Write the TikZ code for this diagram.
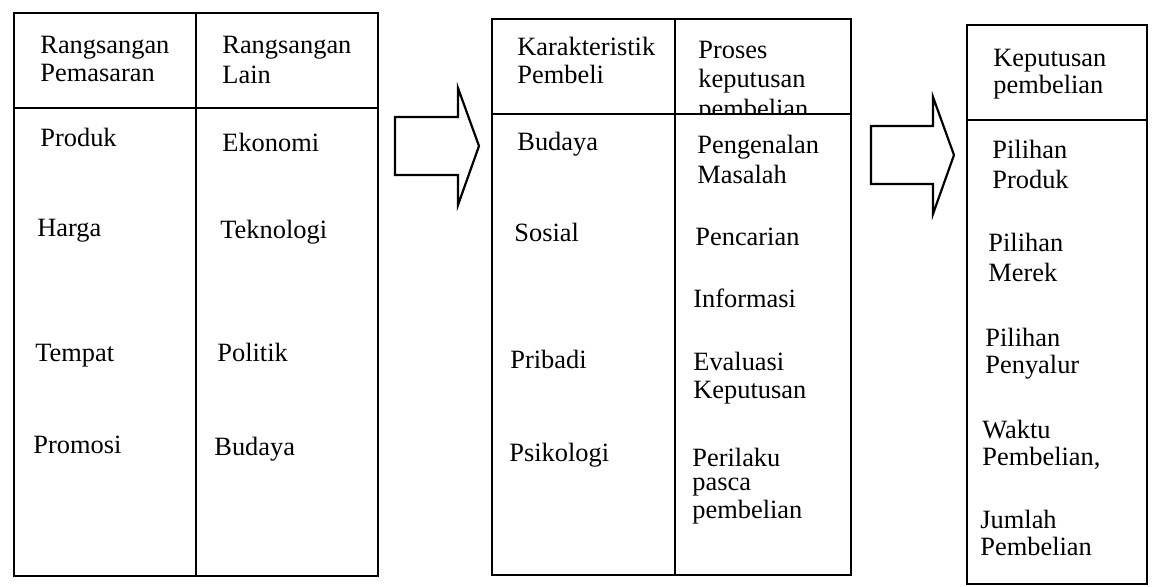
\documentclass[tikz,border=0pt]{standalone}
\usepackage{fontspec}
\setmainfont{Liberation Serif}
\usetikzlibrary{positioning}

\begin{document}
\begin{tikzpicture}[x=0.5pt,y=-0.5pt,
			panel/.style={draw, rectangle, line width=1.1pt, inner sep=0pt},
			rule/.style={line width=1.1pt},
			txt/.style={anchor=base west, inner sep=0pt, font=\fontsize{13.2}{14}\selectfont},
			bigarrow/.style={draw, line width=1.1pt, line join=miter}]
			
			\useasboundingbox (0,0) rectangle (1153,586);
			
			% three panels
			\node[panel, minimum width=182pt, minimum height=281.5pt] (stimuli) at (196,294.5) {};
			\node[panel, minimum width=179.5pt, minimum height=278pt] (buyer) at (671.5,297) {};
			\node[panel, minimum width=90pt, minimum height=279.5pt] (decision) at (1057,304.5) {};
			
			% panel 1
			\node[txt] (h11) at (40,53) {Rangsangan};
			\node[txt] (h12) at (40,81) {Pemasaran};
			\node[txt] (h21) at (222,53) {Rangsangan};
			\node[txt] (h22) at (222,83) {Lain};
			\node[txt] (produk) at (40,146) {Produk};
			\node[txt] (harga) at (37,236) {Harga};
			\node[txt] (tempat) at (35,361) {Tempat};
			\node[txt] (promosi) at (33,453) {Promosi};
			\node[txt] (ekonomi) at (222,151) {Ekonomi};
			\node[txt] (teknologi) at (220,238) {Teknologi};
			\node[txt] (politik) at (217,361) {Politik};
			\node[txt] (budaya1) at (214,455) {Budaya};
			
			% panel 2
			\node[txt] (h31) at (517,55) {Karakteristik};
			\node[txt] (h32) at (517,83) {Pembeli};
			\node[txt] (h41) at (698,58) {Proses};
			\node[txt] (h42) at (698,87) {keputusan};
			\node[txt] (h43) at (698,117) {pembelian};
			\fill[white] (677,114) rectangle (849,132);
			\node[txt] (budaya2) at (517,150) {Budaya};
			\node[txt] (sosial) at (514,241) {Sosial};
			\node[txt] (pribadi) at (510,368) {Pribadi};
			\node[txt] (psikologi) at (509,461) {Psikologi};
			\node[txt] (pengenalan) at (697,153) {Pengenalan};
			\node[txt] (masalah) at (697,183) {Masalah};
			\node[txt] (pencarian) at (695,245) {Pencarian};
			\node[txt] (informasi) at (693,307) {Informasi};
			\node[txt] (evaluasi) at (693,370) {Evaluasi};
			\node[txt] (keputusan) at (693,398) {Keputusan};
			\node[txt] (perilaku) at (692,466) {Perilaku};
			\node[txt] (pasca) at (692,490) {pasca};
			\node[txt] (pembelian) at (692,518) {pembelian};
			
			% panel 3
			\node[txt] (h51) at (993,66) {Keputusan};
			\node[txt] (h52) at (993,93) {pembelian};
			\node[txt] (pil1) at (992,158) {Pilihan};
			\node[txt] (pil1b) at (992,188) {Produk};
			\node[txt] (pil2) at (988,251) {Pilihan};
			\node[txt] (pil2b) at (988,281) {Merek};
			\node[txt] (pil3) at (985,346) {Pilihan};
			\node[txt] (pil3b) at (985,373) {Penyalur};
			\node[txt] (waktu) at (982,438) {Waktu};
			\node[txt] (waktub) at (982,465) {Pembelian,};
			\node[txt] (jumlah) at (980,528) {Jumlah};
			\node[txt] (jumlahb) at (980,555) {Pembelian};
			
			% header rules and column rules
			\draw[rule] (stimuli.west |- 0,108) -- (stimuli.east |- 0,108);
			\draw[rule] (stimuli.north) -- (stimuli.south);
			\draw[rule] (buyer.west |- 0,114) -- (buyer.east |- 0,114);
			\draw[rule] (buyer.north -| 675,0) -- (buyer.south -| 675,0);
			\draw[rule] (decision.west |- 0,120) -- (decision.east |- 0,120);
			
			% block arrows
			\coordinate (a1) at (395,146);
			\coordinate (a2) at (871,155);
			\draw[bigarrow] (a1) ++(0,-29) -- ++(63,0) -- ++(0,-29) -- ++(21,58) -- ++(-21,59) -- ++(0,-30) -- ++(-63,0) -- cycle;
			\draw[bigarrow] (a2) ++(0,-29) -- ++(62,0) -- ++(0,-29) -- ++(21,58) -- ++(-21,59) -- ++(0,-30) -- ++(-62,0) -- cycle;
			
		\end{tikzpicture}
\end{document}
